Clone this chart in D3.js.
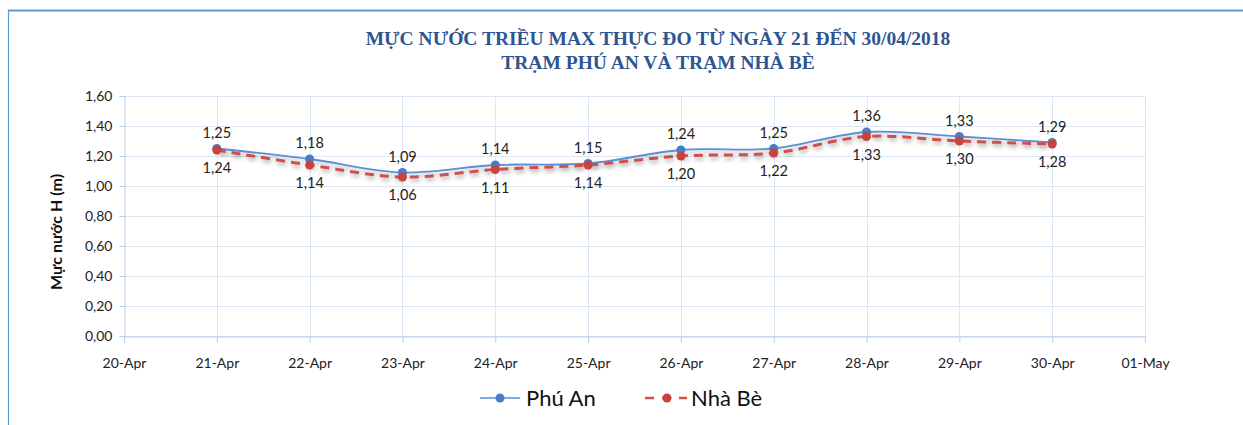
<!DOCTYPE html>
<html><head><meta charset="utf-8">
<script src="https://cdn.jsdelivr.net/npm/d3@7"></script>
<style>body{margin:0;background:#fff}svg{display:block}</style>
</head><body>
<script>
const dates = ["20-Apr","21-Apr","22-Apr","23-Apr","24-Apr","25-Apr","26-Apr","27-Apr","28-Apr","29-Apr","30-Apr","01-May"];
const dataDates = ["21-Apr","22-Apr","23-Apr","24-Apr","25-Apr","26-Apr","27-Apr","28-Apr","29-Apr","30-Apr"];
const phuAn = [1.25,1.18,1.09,1.14,1.15,1.24,1.25,1.36,1.33,1.29];
const nhaBe = [1.24,1.14,1.06,1.11,1.14,1.20,1.22,1.33,1.30,1.28];
const yTicks = [0,0.2,0.4,0.6,0.8,1.0,1.2,1.4,1.6];
const titleLines = ["MỰC NƯỚC TRIỀU MAX THỰC ĐO TỪ NGÀY 21 ĐẾN 30/04/2018","TRẠM PHÚ AN VÀ TRẠM NHÀ BÈ"];
const seriesNames = ["Phú An","Nhà Bè"];

const W=1243,H=425;
const svg=d3.select("body").append("svg").attr("width",W).attr("height",H);
const defs=svg.append("defs");
const f=defs.append("filter").attr("id","sh").attr("x","-5%").attr("y","-50%").attr("width","110%").attr("height","200%");
f.append("feDropShadow").attr("dx",1).attr("dy",3).attr("stdDeviation",2).attr("flood-color","#000").attr("flood-opacity",0.3);

// frame
svg.append("line").attr("x1",8).attr("x2",W).attr("y1",10.5).attr("y2",10.5).attr("stroke","#5B9BD5").attr("stroke-width",2);
svg.append("line").attr("x1",8.5).attr("x2",8.5).attr("y1",10).attr("y2",H).attr("stroke","#5B9BD5").attr("stroke-width",1.2);

const x=d3.scalePoint().domain(dates).range([124,1145]);
const y=d3.scaleLinear().domain([0,1.6]).range([336,96]);
const font="Lato, sans-serif";

// gridlines
svg.append("g").selectAll("line").data(yTicks).join("line")
  .attr("x1",124).attr("x2",1145).attr("y1",d=>Math.round(y(d))+0.5).attr("y2",d=>Math.round(y(d))+0.5)
  .attr("stroke","#DCE6F4").attr("stroke-width",1);
svg.append("g").selectAll("line").data(dates.slice(1)).join("line")
  .attr("x1",d=>Math.round(x(d))+0.5).attr("x2",d=>Math.round(x(d))+0.5).attr("y1",96).attr("y2",336)
  .attr("stroke","#DCE6F4").attr("stroke-width",1);

// axes
const yAx=svg.append("g").attr("transform","translate(124.5,0)")
  .call(d3.axisLeft(y).tickValues(yTicks).tickSize(5).tickFormat(d=>d3.format(".2f")(d).replace(".",",")));
const xAx=svg.append("g").attr("transform","translate(0,336.5)")
  .call(d3.axisBottom(x).tickSize(6).tickPadding(16));
[yAx,xAx].forEach(a=>{
  a.select(".domain").attr("stroke","#B8CDEA");
  a.selectAll(".tick line").attr("stroke","#B8CDEA");
  a.selectAll("text").attr("font-family",font).attr("font-size",14).attr("fill","#222");
});
yAx.selectAll("text").attr("dx",-4);

// y label
svg.append("text").attr("transform","translate(62,232) rotate(-90)").attr("text-anchor","middle")
  .attr("font-family",font).attr("font-weight","bold").attr("font-size",16).attr("fill","#111").text("Mực nước H (m)");

// title
svg.append("g").selectAll("text").data(titleLines).join("text")
  .attr("x",658).attr("y",(d,i)=>45+i*24).attr("text-anchor","middle")
  .attr("font-family","Liberation Serif, serif").attr("font-weight","bold").attr("font-size",19.5)
  .attr("fill","#2E5590").text(d=>d);

const line=d3.line().x((d,i)=>x(dataDates[i])).y(d=>y(d)).curve(d3.curveCatmullRom.alpha(0.5));
const blue="#4A7CC8", red="#C8433E";

svg.append("path").datum(phuAn).attr("d",line).attr("fill","none").attr("stroke","#5B8FD6").attr("stroke-width",1.8).attr("filter","url(#sh)");
svg.append("path").datum(nhaBe).attr("d",line).attr("fill","none").attr("stroke","#D0504C").attr("stroke-width",3).attr("stroke-dasharray","9,6").attr("filter","url(#sh)");

svg.append("g").selectAll("circle").data(phuAn).join("circle")
  .attr("cx",(d,i)=>x(dataDates[i])).attr("cy",d=>y(d)).attr("r",4.5).attr("fill",blue);
svg.append("g").selectAll("circle").data(nhaBe).join("circle")
  .attr("cx",(d,i)=>x(dataDates[i])).attr("cy",d=>y(d)).attr("r",4.5).attr("fill",red);

const fmt=d=>d3.format(".2f")(d).replace(".",",");
svg.append("g").selectAll("text").data(phuAn).join("text")
  .attr("x",(d,i)=>x(dataDates[i])).attr("y",d=>y(d)-11).attr("text-anchor","middle")
  .attr("font-family",font).attr("font-size",14.5).attr("fill","#222").text(fmt);
svg.append("g").selectAll("text").data(nhaBe).join("text")
  .attr("x",(d,i)=>x(dataDates[i])).attr("y",d=>y(d)+23).attr("text-anchor","middle")
  .attr("font-family",font).attr("font-size",14.5).attr("fill","#222").text(fmt);

// legend
const lg=svg.append("g");
lg.append("line").attr("x1",480).attr("x2",520).attr("y1",398).attr("y2",398).attr("stroke","#5B8FD6").attr("stroke-width",1.5);
lg.append("circle").attr("cx",500).attr("cy",398).attr("r",4.5).attr("fill",blue);
lg.append("text").attr("x",526).attr("y",406).attr("font-family",font).attr("font-size",22).attr("fill","#111").text(seriesNames[0]);
lg.append("line").attr("x1",645).attr("x2",687).attr("y1",398).attr("y2",398).attr("stroke","#D0504C").attr("stroke-width",2.5).attr("stroke-dasharray","9,8");
lg.append("circle").attr("cx",667).attr("cy",398).attr("r",4.5).attr("fill",red);
lg.append("text").attr("x",691).attr("y",406).attr("font-family",font).attr("font-size",22).attr("fill","#111").text(seriesNames[1]);
</script>
</body></html>
